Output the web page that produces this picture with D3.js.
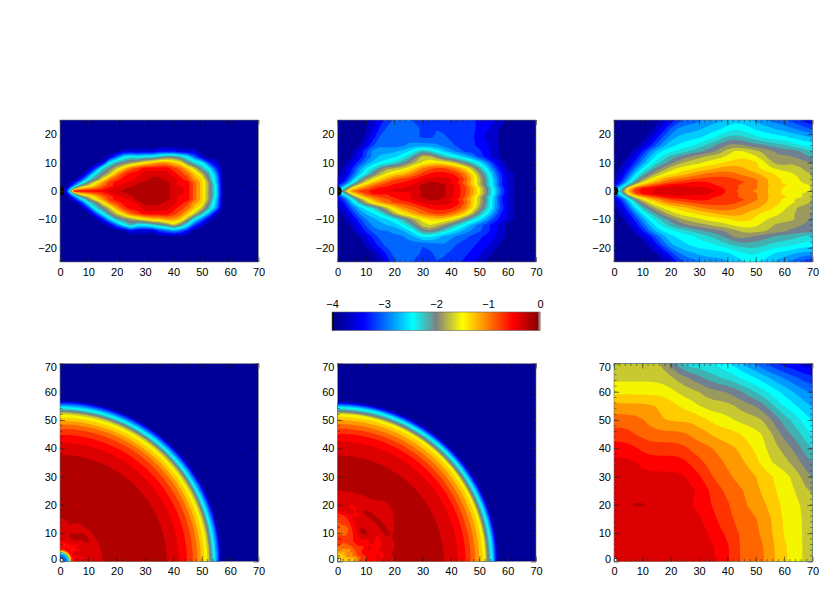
<!DOCTYPE html>
<html><head><meta charset="utf-8">
<script src="https://cdn.jsdelivr.net/npm/d3@7"></script>
<style>html,body{margin:0;background:#fff}text{font-family:"Liberation Sans",Arial,sans-serif}</style>
</head><body><div id="chart"></div>
<script>
// Band colours, lowest band first; a grid character is an index into this list (base 36).
const bandColors = ["#000099","#0000cc","#0000ff","#0033ff","#0066ff","#0099ff","#00ccff","#00ffff","#20dddd","#40b0b0","#708090","#9a9a60","#c8c830","#f5f500","#ffcc00","#ff9900","#ff6600","#ff3300","#ff0000","#dd0000","#b00000"];
// Colour bar
const barValues = [-4,-3.4,-2.46,-2,-1.5,-0.54,0];
const barColors = ["#000080","#0000ff","#00ffff","#808080","#ffff00","#ff0000","#800000"];
const barTicks = [-4,-3,-2,-1,0];
// Axis ticks
const xTicks = [0,10,20,30,40,50,60,70];
const yTicksSide = [-20,-10,0,10,20];
const yTicksPolar = [0,10,20,30,40,50,60,70];
// Grid nodes of the top row (x along the axis, y across it)
const sideX = [0,2.5,5,7.5,10,12.5,15,17.5,20,22.5,25,27.5,30,32.5,35,37.5,40,42.5,45,47.5,50,52.5,55,57.5,60,62.5,65,67.5,70];
const sideY = [25,22,19,16,14,12,10,8,6,4,3,2,1,0,-1,-2,-3,-4,-6,-8,-10,-12,-14,-16,-19,-22,-25];
const topLeftRows = ["","","","",
"000000000111112221110",
"000000014787889aa9741",
"000000179abcdeffeda8731",
"0000038aceghiiiihgec973",
"000038acfhiijjjjihgec95",
"00038adghiijjkkjjihfea6",
"0026adfhiijjkkkkjiigeb6",
"004aceghijjkkkkkjiigeb7",
"01aefghijjkkkkkkjjigeb7",
"03iiiiijjkkkkkkkjjigeb7",
"01aefghijjkkkkkkjjigeb7",
"004aceghijjkkkkkjiigeb7",
"0026adfhiijkkkkkjiigeb6",
"00038adghiijkkkjjihfea6",
"000038acfhiijjjjihgec95",
"0000037aceghiiiihgec951",
"000000269abcdeeffeb741",
"000000014797789aca731",
"0000000000211134542",
"","","",""];
const topMiddleRows = [
"000001234443333323332221",
"00000134454433433333221",
"00000245444433443333211",
"00001454445555544333221",
"000136555667b8765433321",
"00014566678adda98765321",
"0013567789acddeddba87521",
"002577acbcdegghhgfec9741",
"00368acdeefghiiiihgeb9521",
"0159cdefhhhijjjjjiheca621",
"027bdeggihiijkkjiigeca621",
"05aeeghhiiijkkkkjiheca621",
"0aefghiijijjkkkkjihfdb731",
"0fghhijijjijkkkkjihfdb731",
"0aefhiihiiijkkkkjihfdb731",
"05aefghhiiijkkkkjiheca621",
"037bdfgghiijjkkjiigeca621",
"0269cefghhhijjjjjiheca621",
"014678acefgghiiiihgeb9631",
"00256679cdefgghhgfec97521",
"0013556679acdeeedca875321",
"00024556578addcba8754321",
"000134545567bba876544321",
"000013454455876554433221",
"00000234544434454333221",
"0000001345443344333221",
"000000024443334333221"];
const topRightRows = [
"00000000234445556666554443321",
"00000002455556667877666555443",
"00000024566667789998877776665",
"000002466777899abbbaaa9998877",
"0000256778899aabcddccbbaaaa98",
"000146789aabbcccddeddcbabbaa9",
"00035789abcccdddeeeeedcabcbba",
"001578abcdddeeeffffeeddccccbb",
"00379acddeeffgggggfffeedddccb",
"0069bdefggghhhhhhhgggfeedddcb",
"017bdefghhhiiihhhhhggfeedddcc",
"03befghiijiiiiihhhgggfeeedddc",
"07ghiijjjjjjjjiihhgggfeeddddc",
"0ahiiijjjjjjjjjihhgfgfeeddddc",
"07ghiijjjjjjjjiihhgggfeedddcc",
"03befghiijiiiiihhhgggfeeeddcc",
"017bdefghhhiiihhhhhggfeeddccb",
"0069bdefggghhhhhhhggffeeddccb",
"00379acddeeffgggggfffeeddcbbb",
"001578abcdddeeeffffeedddccbba",
"00035789abcccddddeeeddccccbba",
"000146789aabbbcccddddccbbbbaa",
"0000256778899aaabbccccbbbaaaa",
"0000024667778899abbbaaa999988",
"00000024666777788999998888777",
"00000001355566666778877666555",
"00000000134445555667766554432"];
// Polar grid nodes of the bottom row: angles in degrees, radii split in an inner and an outer part
const polarAngles = [0,7.5,15,22.5,30,37.5,45,52.5,60,67.5,75,82.5,90];
const leftInnerRadii = [0,1.5,2.5,3,3.5,4.5,6,8,10,12,14,16,18];
const leftInnerRows = ["3457dijjjjjkk","3457dijijjjkk","3457diijjjjkk","3457dijjjjjkk","3457dijijjjkk","3457diijjkjkk","3457dihijkjkk","3457diijkkjkk","3457dihjkjjkk","3457diijkjjkk","3457dihjjjkkk","3457diijjjjkk","3457dihjjjjkk"];
const leftOuterRadii = [37.6,37.8,41.9,42.1,44.7,44.9,46.8,47,48.4,48.6,49.6,49.8,50.8,51,51.9,52.1,52.5,52.7,53.2,53.6,54,54.4,54.8,55.2,55.6,56,56.3,56.6,57];
const leftOuterBands = "kjjiihhggffeeddccba9876543210";
const midInnerRadii = [0,1,2,3,4,6,8,10,12,14,16,18,20,22,24,26,28];
const midInnerRows = ["egfdefhiiijjjkkkk","efdefeghijijkkkkk","fedfefhiiijjjkkkk","fegdfghijiijjkkkk","fdefgfhhijijkjkkk","efdefghiijjjkjjkk","edfegfhijkjjkjjjk","fedfeghijkjjkjjjk","efedfghhijjjkjjkk","edeffghhhijijjjkk","fefegghgghijijjkk","efdfehigghhjjjjkk","edfefhhghghijjjkk"];
const midOuterRadii = [37.4,37.6,42.4,42.6,45.1,45.3,46.9,47.1,48.5,48.7,49.9,50.1,51.1,51.3,52.1,52.3,52.4,52.6,53.2,53.6,54,54.4,54.8,55.1,55.4,55.7,56,56.3,56.7];
const midOuterBands = leftOuterBands;
// Bottom right: Cartesian grid
const fieldX = sideX;
const fieldY = [70,65,60,55,50,45,40,35,30,25,20,15,10,5,0];
const fieldRows = [
"cccccccba87777776654432211100",
"ccccccccccbba9988877766554433",
"dddddddddccccbbbbaa9887766554",
"ffffffffeeddccccccbbba9877665",
"gggggfeeeeefeedddcccccba99876",
"hhhggggggggfffeeeeedddcba9987",
"iiiihhhhhhhggggfffeeddccbba98",
"jjjjiiiiiiihhgggfffeedcccbba9",
"jjjjjjjjjjjiihgggffffeeeddcba",
"jjjjjjjjjjjjjihhgggffeedddccb",
"jjkkkkjjjjjiiihhhggfffeedddcc",
"jjjjjjjjjjjjjiihhggggffedddcc",
"jjiijjjjjjjjjjihihgggffedddcc",
"ijjjjjjjjjjjjjjiihggggfeeddcc",
"ijjjjjjjjjjjjjjiihggggfeeddcc"];

const W=830,H=600,levels=d3.range(1,bandColors.length);
const svg=d3.select("#chart").append("svg").attr("width",W).attr("height",H).style("display","block");
const defs=svg.append("defs");
const parseRows=(rows,n)=>rows.map(r=>r.padEnd(n,"0")).join("").split("").map(c=>parseInt(c,36)+0.5);
const nodeScale=a=>d3.scaleLinear().domain(a.map((_,i)=>i+0.5)).range(a).clamp(true);

function drawField(g,rows,cols,rowNodes,toXY,rx,ry){
  const n=cols.length,m=rowNodes.length,values=parseRows(rows,n);
  if(rx||ry) d3.blur2({data:values,width:n,height:m},rx||0,ry||0);
  const su=nodeScale(cols),sv=nodeScale(rowNodes);
  const path=d3.geoPath(d3.geoTransform({point(u,v){const p=toXY(su(u),sv(v));this.stream.point(p[0],p[1]);}}));
  const layers=d3.contours().size([n,m]).thresholds(levels)(values);
  g.selectAll("path.band").data(layers).join("path").attr("class","band")
   .attr("d",path).attr("fill",d=>bandColors[d.value]).attr("fill-rule","evenodd");
}

function panel(id,left,top,w,h,yDom,yTicks,draw,corner){
  const x=d3.scaleLinear().domain([0,70]).range([left,left+w]);
  const y=d3.scaleLinear().domain(yDom).range([top+h,top]);
  defs.append("clipPath").attr("id",id).append("rect").attr("x",left).attr("y",top).attr("width",w).attr("height",h);
  const g=svg.append("g").attr("clip-path",`url(#${id})`);
  g.append("rect").attr("x",left).attr("y",top).attr("width",w).attr("height",h).attr("fill",bandColors[0]);
  draw(g,x,y);
  corner(g,x,y);
  const minX=d3.range(0,71,2),minY=d3.range(yDom[0],yDom[1]+.1,1).filter(v=>v%2===0);
  const ax=svg.append("g");
  const tickStyle=s=>{s.select(".domain").remove();s.selectAll("line").attr("stroke","#222").attr("stroke-width",.6);s.selectAll("text").attr("font-size",11).attr("fill","#000").attr("font-family",'"Liberation Sans",Arial,sans-serif');};
  ax.append("g").attr("transform",`translate(0,${top+h})`).call(d3.axisBottom(x).tickValues(xTicks).tickSizeInner(-5).tickSizeOuter(0).tickPadding(6)).call(tickStyle);
  const ylab=ax.append("g").attr("transform",`translate(${left},0)`).call(d3.axisLeft(y).tickValues(yTicks).tickSizeInner(-5).tickSizeOuter(0).tickPadding(3));
  ylab.call(tickStyle);
  ylab.selectAll("text").attr("transform",d=>yDom[1]===70?(d===70?"translate(0,3.5)":d===0?"translate(0,-3)":null):null);
  ax.append("g").attr("transform",`translate(0,${top})`).call(d3.axisTop(x).tickValues(xTicks).tickSizeInner(-5).tickSizeOuter(0).tickFormat("")).call(tickStyle);
  ax.append("g").attr("transform",`translate(${left+w},0)`).call(d3.axisRight(y).tickValues(yTicks).tickSizeInner(-5).tickSizeOuter(0).tickFormat("")).call(tickStyle);
  const mg=ax.append("g").attr("stroke","#222").attr("stroke-width",.5);
  mg.selectAll("line.mx").data(minX).join("line").attr("class","mx").attr("x1",x).attr("x2",x).attr("y1",top+h).attr("y2",top+h-2.5);
  mg.selectAll("line.mt").data(minX).join("line").attr("class","mt").attr("x1",x).attr("x2",x).attr("y1",top).attr("y2",top+2.5);
  mg.selectAll("line.my").data(minY).join("line").attr("class","my").attr("y1",y).attr("y2",y).attr("x1",left).attr("x2",left+2.5);
  mg.selectAll("line.mr").data(minY).join("line").attr("class","mr").attr("y1",y).attr("y2",y).attr("x1",left+w).attr("x2",left+w-2.5);
  ax.append("rect").attr("x",left).attr("y",top).attr("width",w).attr("height",h).attr("fill","none").attr("stroke","#777").attr("stroke-width",.6);
}
const sideCorner=(g,x,y)=>g.append("ellipse").attr("cx",x(0)).attr("cy",y(0)).attr("rx",x(1.5)-x(0)).attr("ry",y(0)-y(1.6)).attr("fill","#000");
const polarCorner=(g,x,y)=>g.append("rect").attr("x",x(0)).attr("y",y(1)).attr("width",x(1)-x(0)).attr("height",y(0)-y(1)).attr("fill","#fff").attr("stroke","#000").attr("stroke-width",.5);
const lefts=[60,337.5,614],pw=198.5;
const sideDraw=(rows,rx,ry)=>(g,x,y)=>drawField(g,rows,sideX,sideY,(a,b)=>[x(a),y(b)],rx,ry);
// Each polar row is split into three so that the outer rings follow the circle closely.
const polarFine=d3.range(0,90.01,2.5);
const polarDraw=(inner,innerR,outerR,outerB)=>(g,x,y)=>{
  const radii=innerR.concat(outerR);
  const rows=polarFine.map(t=>inner[d3.bisectCenter(polarAngles,t)]+outerB);
  drawField(g,rows,radii,polarFine,(r,t)=>{const a=t*Math.PI/180;return [x(r*Math.cos(a)),y(r*Math.sin(a))];},0,1);
};
panel("p1",lefts[0],120,pw,142,[-25,25],yTicksSide,sideDraw(topLeftRows,0,0),sideCorner);
panel("p2",lefts[1],120,pw,142,[-25,25],yTicksSide,sideDraw(topMiddleRows,.2,0),sideCorner);
panel("p3",lefts[2],120,pw,142,[-25,25],yTicksSide,sideDraw(topRightRows,.3,0),sideCorner);
panel("p4",lefts[0],363.5,pw,198,[0,70],yTicksPolar,polarDraw(leftInnerRows,leftInnerRadii,leftOuterRadii,leftOuterBands),polarCorner);
panel("p5",lefts[1],363.5,pw,198,[0,70],yTicksPolar,polarDraw(midInnerRows,midInnerRadii,midOuterRadii,midOuterBands),polarCorner);
panel("p6",lefts[2],363.5,pw,198,[0,70],yTicksPolar,(g,x,y)=>drawField(g,fieldRows,fieldX,fieldY,(a,b)=>[x(a),y(b)],.3,.1),polarCorner);

// Colour bar
const bx=d3.scaleLinear().domain([-4,0]).range([332,540]);
const bc=d3.scaleLinear().domain(barValues).range(barColors);
const steps=d3.range(-4,0,4/208);
const bar=svg.append("g");
bar.selectAll("rect").data(steps).join("rect").attr("x",bx).attr("y",312).attr("width",1.2).attr("height",18.5).attr("fill",d=>bc(d));
bar.append("rect").attr("x",bx(-4)).attr("y",312).attr("width",1.5).attr("height",18.5).attr("fill","#000");
bar.append("rect").attr("x",bx(0)-1.5).attr("y",312).attr("width",1.5).attr("height",18.5).attr("fill","#999");
bar.append("rect").attr("x",bx(-4)).attr("y",312).attr("width",208).attr("height",18.5).attr("fill","none").attr("stroke","#666").attr("stroke-width",.6);
const bax=svg.append("g").attr("transform","translate(0,312)").call(d3.axisTop(bx).tickValues(barTicks).tickSize(0).tickPadding(4).tickFormat(d3.format("d")));
bax.select(".domain").remove();
bax.selectAll("text").attr("font-size",11).attr("fill","#000").attr("font-family",'"Liberation Sans",Arial,sans-serif');
</script></body></html>
